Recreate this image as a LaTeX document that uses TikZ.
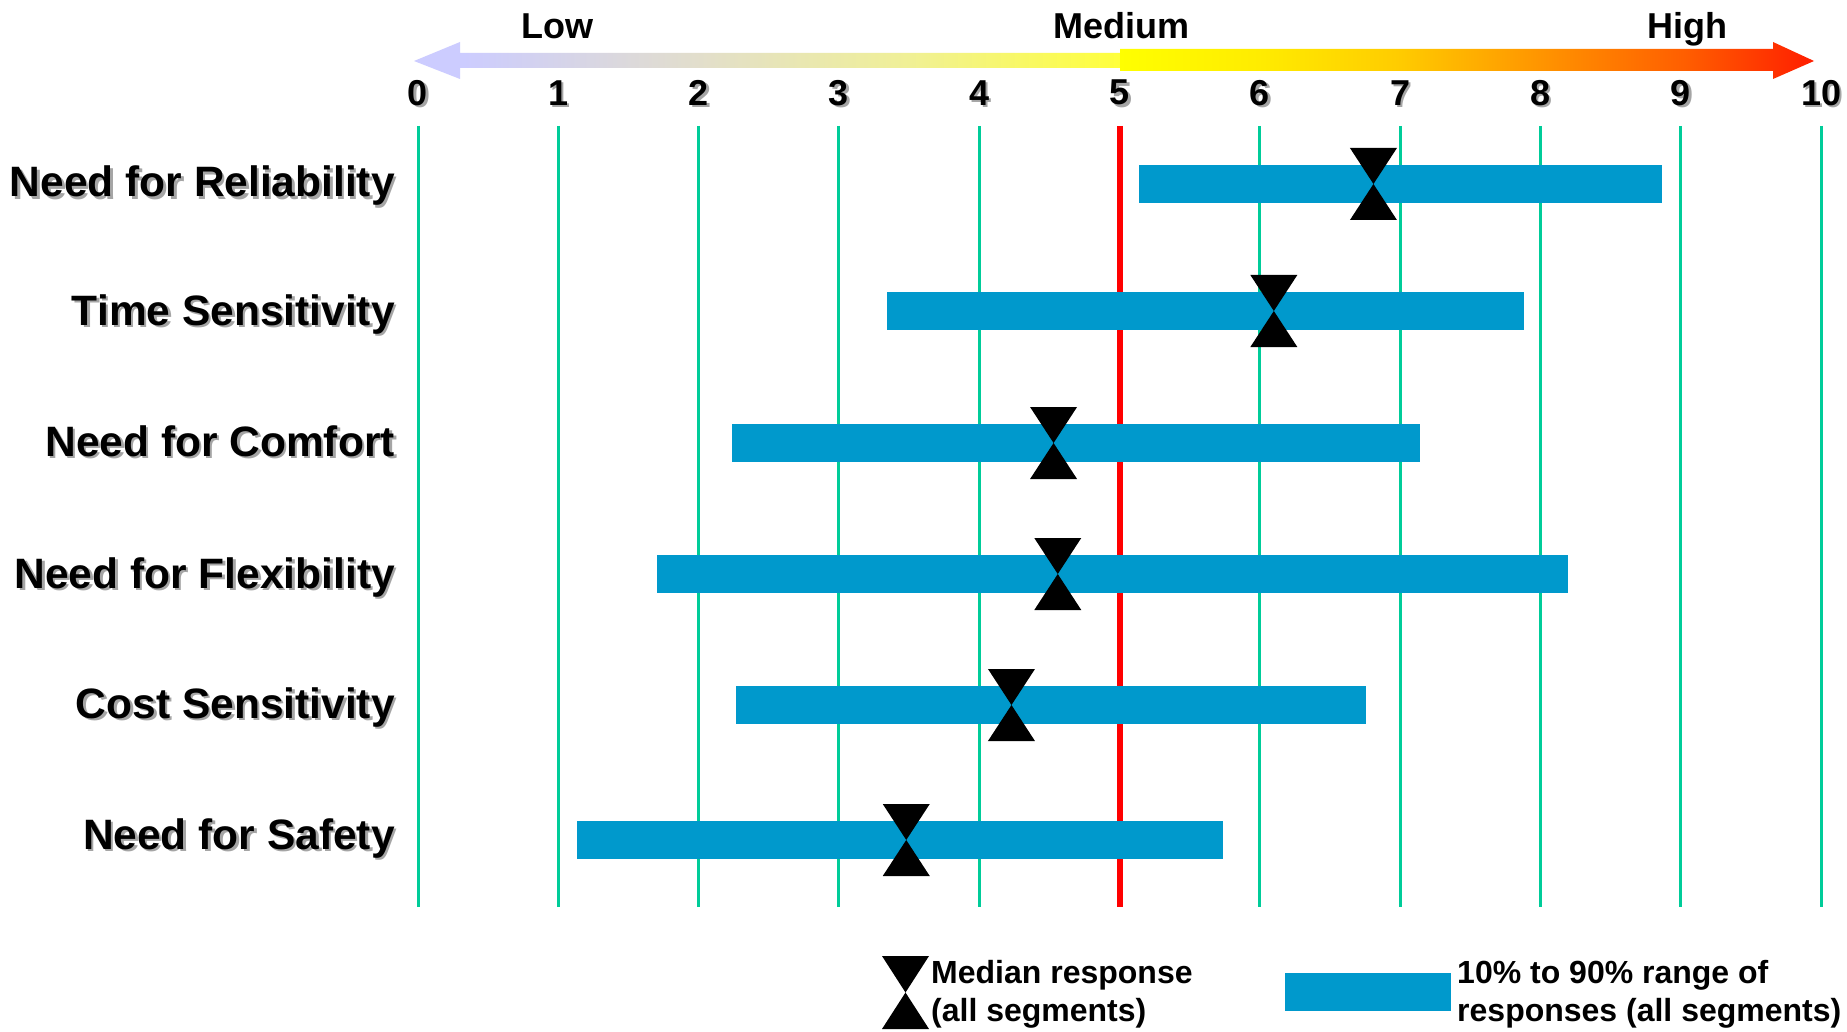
\documentclass[tikz,border=0pt]{standalone}
\usepackage{fontspec}
\setmainfont{Liberation Sans}
\definecolor{barblue}{RGB}{0,153,204}
\definecolor{gridgreen}{RGB}{0,204,153}
\definecolor{shadowgray}{RGB}{165,165,165}
\definecolor{medred}{RGB}{255,0,0}
\definecolor{lav}{RGB}{204,204,255}
\definecolor{beig}{RGB}{226,222,204}
\definecolor{lyel}{RGB}{240,240,150}
\definecolor{yelA}{RGB}{255,255,60}
\definecolor{yelB}{RGB}{255,255,0}
\definecolor{ylC}{RGB}{255,236,0}
\definecolor{ylD}{RGB}{255,204,0}
\definecolor{orE}{RGB}{255,150,0}
\definecolor{orF}{RGB}{255,95,0}
\definecolor{redG}{RGB}{255,30,0}
\pgfdeclarehorizontalshading{leftgrad}{100bp}{color(0bp)=(lav); color(25bp)=(lav); color(28.5bp)=(lav); color(45bp)=(beig); color(60bp)=(lyel); color(75bp)=(yelA); color(100bp)=(yelA)}
\pgfdeclarehorizontalshading{rightgrad}{100bp}{color(0bp)=(yelB); color(25bp)=(yelB); color(35bp)=(ylC); color(45bp)=(ylD); color(55bp)=(orE); color(65.5bp)=(orF); color(75bp)=(redG); color(100bp)=(redG)}
\newcommand\shtext[1]{\rlap{\kern2.5pt\raisebox{-2.5pt}{\textcolor{shadowgray}{#1}}}#1}
\tikzset{
  lbl/.style={font=\fontsize{42.5}{50}\selectfont\bfseries, inner sep=0pt, anchor=base east},
  num/.style={font=\fontsize{36}{42}\selectfont\bfseries, inner sep=0pt},
  toplbl/.style={font=\fontsize{36}{42}\selectfont\bfseries, inner sep=0pt, anchor=base},
  legtxt/.style={font=\fontsize{32}{38}\selectfont\bfseries, inner sep=0pt, anchor=west, align=left},
  gridline/.style={draw=gridgreen, line width=3pt},
  midline/.style={draw=medred, line width=6pt},
  rangebar/.style={fill=barblue},
  median/.style={fill=black}
}
\begin{document}
\begin{tikzpicture}[x=1pt,y=-1pt]
\useasboundingbox (0,0) rectangle (1847,1032);
\fill[white] (0,0) rectangle (1847,1032);
% top gradient arrow
\shade[shading=leftgrad] (414,61) -- (460,42) -- (460,53) -- (1120,53) -- (1120,68) -- (460,68) -- (460,79) -- cycle;
\shade[shading=rightgrad] (1120,49) -- (1773,49) -- (1773,42) -- (1814,61) -- (1773,79) -- (1773,71) -- (1120,71) -- cycle;
\node[toplbl] (low) at (557,39) {Low};
\node[toplbl] (medium) at (1121,39) {Medium};
\node[toplbl] (high) at (1687,39) {High};
% axis numbers and grid
\foreach \i in {0,...,10} {
  \node[num] (n\i) at ({418+140.3*\i},94) {\shtext{\i}};
}
\foreach \i in {0,1,2,3,4,6,7,8,9,10} {
  \draw[gridline] ({418+140.3*\i},126) -- ({418+140.3*\i},907);
}
\draw[midline] ({418+140.3*5},126) -- ({418+140.3*5},907);
% rows
\foreach \n/\lab/\yc/\yb/\lo/\hi/\med in {
  r1/Need for Reliability/184/197/5.14/8.87/6.81,
  r2/Time Sensitivity/311/325/3.34/7.88/6.10,
  r3/Need for Comfort/443/456/2.24/7.14/4.53,
  r4/Need for Flexibility/574/588/1.70/8.20/4.56,
  r5/Cost Sensitivity/705/718/2.27/6.76/4.23,
  r6/Need for Safety/840/849/1.13/5.74/3.48} {
  \node[lbl] (\n) at (395,\yb) {\shtext{\lab}};
  \fill[rangebar] ({418+140.3*\lo},{\yc-19}) rectangle ({418+140.3*\hi},{\yc+19});
  \fill[median] ({418+140.3*\med-23.5},{\yc-36}) -- ({418+140.3*\med+23.5},{\yc-36}) -- ({418+140.3*\med},{\yc}) -- ({418+140.3*\med+23.5},{\yc+36}) -- ({418+140.3*\med-23.5},{\yc+36}) -- ({418+140.3*\med},{\yc}) -- cycle;
}
% legend
\fill[median] (882,956) -- (929,956) -- (905.5,992.5) -- (929,1029) -- (882,1029) -- (905.5,992.5) -- cycle;
\node[legtxt] (legmed) at (931,994) {Median response\\(all segments)};
\fill[rangebar] (1285,973) rectangle (1451,1011);
\node[legtxt] (legbar) at (1457,994) {10\% to 90\% range of\\responses (all segments)};
\end{tikzpicture}
\end{document}
